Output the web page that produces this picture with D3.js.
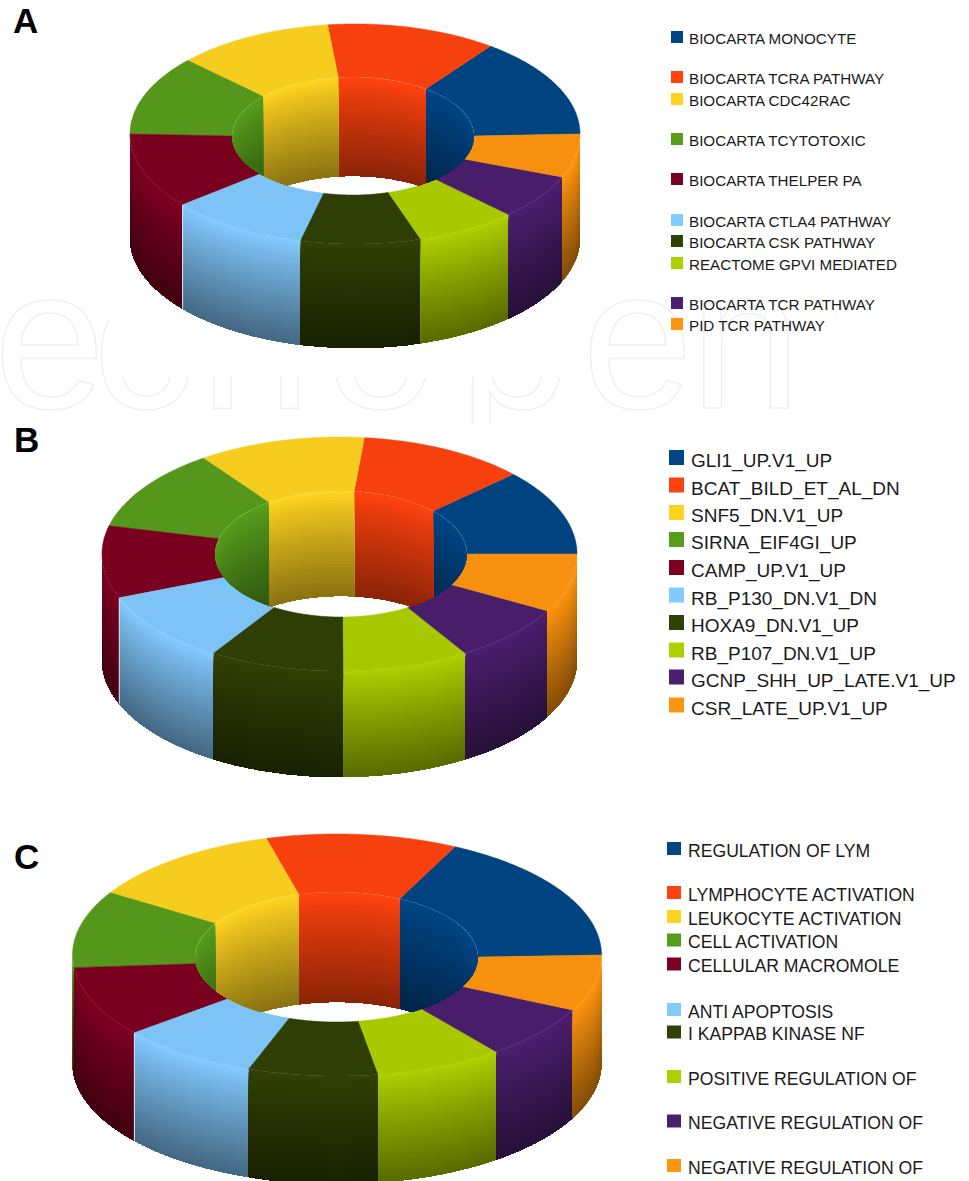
<!DOCTYPE html>
<html>
<head>
<meta charset="utf-8">
<script src="https://cdn.jsdelivr.net/npm/d3@7/dist/d3.min.js"></script>
<style>
  html, body { margin: 0; padding: 0; background: #fff; }
  svg { display: block; }
  text { font-family: "Liberation Sans", Arial, sans-serif; }
</style>
</head>
<body>
<svg id="figure" width="969" height="1181"></svg>
<script>
// Pathway shares per panel, listed counter-clockwise from 3 o'clock.
const labelsA = ["BIOCARTA MONOCYTE", "BIOCARTA TCRA PATHWAY", "BIOCARTA CDC42RAC", "BIOCARTA TCYTOTOXIC", "BIOCARTA THELPER PA", "BIOCARTA CTLA4 PATHWAY", "BIOCARTA CSK PATHWAY", "REACTOME GPVI MEDIATED", "BIOCARTA TCR PATHWAY", "PID TCR PATHWAY"];
const valuesA = [53, 44, 41, 42, 40, 36, 31, 26, 24, 23];

const labelsB = ["GLI1_UP.V1_UP", "BCAT_BILD_ET_AL_DN", "SNF5_DN.V1_UP", "SIRNA_EIF4GI_UP", "CAMP_UP.V1_UP", "RB_P130_DN.V1_DN", "HOXA9_DN.V1_UP", "RB_P107_DN.V1_UP", "GCNP_SHH_UP_LATE.V1_UP", "CSR_LATE_UP.V1_UP"];
const valuesB = [43, 41, 41, 41, 36, 36, 33, 31, 29, 29];

const labelsC = ["REGULATION OF LYM", "LYMPHOCYTE ACTIVATION", "LEUKOCYTE ACTIVATION", "CELL ACTIVATION", "CELLULAR MACROMOLE", "ANTI APOPTOSIS", "I KAPPAB KINASE NF", "POSITIVE REGULATION OF", "NEGATIVE REGULATION OF", "NEGATIVE REGULATION OF"];
const valuesC = [63.5, 42, 43.5, 37, 34, 30.5, 28.5, 28, 26, 27];

const palette = ["#004586", "#ff420e", "#ffd320", "#579d1c", "#7e0021", "#83caff", "#314004", "#aecf00", "#4b1f6f", "#ff950e"];

// Layout of each panel: the top-face ellipses, the extrusion depths and the legend rows.
const layoutA = {
  letter: "A", letterX: 13, letterY: 33,
  outer: { cx: 355, cy: 134, rx: 225, ry: 110, depth: 104 },
  hole: { cx: 353, cy: 136, rx: 121, ry: 59, depth: 99 },
  legend: { swatchX: 671, swatchW: 12, swatchH: 12, textX: 689, fontSize: 15.2, baseline: 7,
            rows: [37, 77, 99, 139, 179, 220, 241, 263, 303, 324] }
};
const layoutB = {
  letter: "B", letterX: 14, letterY: 452,
  outer: { cx: 339.5, cy: 554, rx: 237.5, ry: 117, depth: 106 },
  hole: { cx: 341, cy: 554, rx: 126, ry: 63, depth: 105 },
  legend: { swatchX: 669, swatchW: 15, swatchH: 15, textX: 691, fontSize: 19, baseline: 9.8,
            rows: [457.5, 485, 512.5, 539.5, 567.5, 595, 622.5, 650, 677, 705] }
};
const layoutC = {
  letter: "C", letterX: 14, letterY: 869,
  outer: { cx: 337, cy: 955, rx: 264.5, ry: 121, depth: 108 },
  hole: { cx: 336.5, cy: 957, rx: 141.5, ry: 65, depth: 110 },
  legend: { swatchX: 667, swatchW: 14, swatchH: 13, textX: 688, fontSize: 17.6, baseline: 8,
            rows: [848.5, 892.5, 916.5, 940, 964, 1009.5, 1032, 1076.5, 1121, 1165.5] }
};

const svg = d3.select("#figure");
const color = d3.scaleOrdinal().domain(d3.range(10)).range(palette);
const pie = d3.pie().sort(null).startAngle(Math.PI / 2).endAngle(Math.PI / 2 - 2 * Math.PI);
const outline = d3.line();
const BANDS = 36;

// Faint publisher mark behind the figure, hidden where the first chart's backdrop sits.
const mark = svg.append("g");
mark.append("text")
  .attr("x", "-6 93 200 325 459 582 690")
  .attr("y", 408)
  .attr("font-size", 200)
  .attr("fill", "#fff")
  .attr("stroke", "#f0f0f0")
  .attr("stroke-width", 1.5)
  .text("echopen");
mark.append("rect").attr("x", 110).attr("y", 0).attr("width", 479).attr("height", 377).attr("fill", "#fff");
mark.append("rect").attr("x", 0).attr("y", 425).attr("width", 969).attr("height", 60).attr("fill", "#fff");

// Angles follow d3's convention: 0 at 12 o'clock, growing clockwise.
function rimPoints(e, from, to, dz) {
  const steps = Math.max(2, Math.ceil(Math.abs(to - from) / 0.01));
  return d3.range(steps + 1).map(i => {
    const a = from + (to - from) * i / steps;
    return [e.cx + e.rx * Math.sin(a), e.cy - e.ry * Math.cos(a) + dz];
  });
}

// A wall is painted as stacked bands, so the shading follows the curve of the rim.
function drawWall(g, e, from, to, base, startDim, endDim) {
  const ramp = d3.interpolateRgb(d3.rgb(base).darker(startDim), d3.rgb(base).darker(endDim));
  const depths = d3.range(BANDS).map(k => k / BANDS);
  g.selectAll(null).data(depths).join("path")
    .attr("d", t => {
      const top = rimPoints(e, from, to, t * e.depth);
      const bottom = rimPoints(e, to, from, e.depth);
      return outline(top.concat(bottom)) + "Z";
    })
    .attr("fill", t => ramp(Math.pow(t, 0.9)));
}

function drawPanel(values, labels, layout, index) {
  const { outer, hole, legend } = layout;
  const arcs = pie(values);
  const g = svg.append("g");

  // outer walls on the near half of the ring
  arcs.forEach((d, i) => {
    const hi = Math.min(d.startAngle, -Math.PI / 2);
    const lo = Math.max(d.endAngle, -3 * Math.PI / 2);
    if (hi > lo) drawWall(g.append("g"), outer, hi, lo, color(i), 0, 1.9);
  });

  // thin pale seam on the left side of the light-blue wall
  const seam = arcs[5].startAngle;
  const seamTop = rimPoints(outer, seam, seam, 0)[0];
  g.append("path")
    .attr("d", outline([seamTop, [seamTop[0], seamTop[1] + outer.depth]]))
    .attr("stroke", "#d5e9fb").attr("stroke-width", 1).attr("fill", "none");

  // top faces
  g.selectAll(null).data(arcs).join("path")
    .attr("d", d => outline(
      rimPoints(outer, d.startAngle, d.endAngle, 0)
        .concat(rimPoints(hole, d.endAngle, d.startAngle, 0))) + "Z")
    .attr("fill", (d, i) => d3.rgb(color(i)).darker(0.1))
    .attr("stroke", (d, i) => d3.rgb(color(i)).darker(0.1))
    .attr("stroke-width", 0.5);

  // inner walls on the far half of the hole, clipped to the hole's opening;
  // a very short last sliver is absorbed by its neighbour
  const clipId = "hole-" + index;
  svg.append("clipPath").attr("id", clipId).append("ellipse")
    .attr("cx", hole.cx).attr("cy", hole.cy).attr("rx", hole.rx).attr("ry", hole.ry);
  const inner = g.append("g").attr("clip-path", `url(#${clipId})`);
  arcs.forEach((d, i) => {
    const hi = Math.min(d.startAngle, Math.PI / 2);
    let lo = Math.max(d.endAngle, -Math.PI / 2);
    if (hi - lo < 0.3) return;
    if (lo - (-Math.PI / 2) < 0.3) lo = -Math.PI / 2;
    drawWall(inner.append("g"), hole, hi, lo, color(i), 0, 1.75);
  });

  // panel letter
  svg.append("text")
    .attr("x", layout.letterX).attr("y", layout.letterY)
    .attr("font-size", 35).attr("font-weight", 700).attr("fill", "#000")
    .text(layout.letter);

  // legend
  const row = svg.append("g").selectAll("g").data(labels).join("g")
    .attr("transform", (d, i) => `translate(0,${legend.rows[i]})`);
  row.append("rect")
    .attr("x", legend.swatchX).attr("y", -legend.swatchH / 2)
    .attr("width", legend.swatchW).attr("height", legend.swatchH)
    .attr("fill", (d, i) => color(i));
  row.append("text")
    .attr("x", legend.textX).attr("y", legend.baseline)
    .attr("font-size", legend.fontSize).attr("fill", "#1a1a1a")
    .text(d => d);
}

drawPanel(valuesA, labelsA, layoutA, 0);
drawPanel(valuesB, labelsB, layoutB, 1);
drawPanel(valuesC, labelsC, layoutC, 2);
</script>
</body>
</html>
